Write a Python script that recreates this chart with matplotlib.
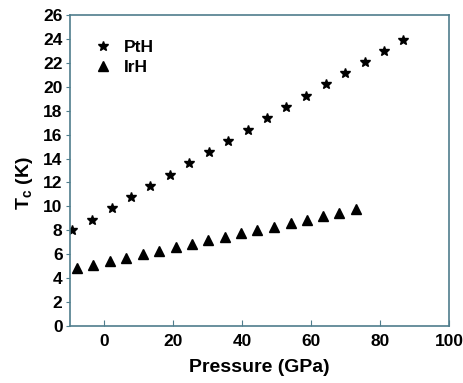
import matplotlib
matplotlib.use("Agg")
import matplotlib.pyplot as plt

pth_p = [-9.3, -3.6, 2.2, 7.7, 13.3, 19.1, 24.7, 30.4, 35.9, 41.6, 47.3, 52.8, 58.6, 64.3, 69.9, 75.6, 81.2, 86.8]
pth_tc = [8.0, 8.86, 9.84, 10.76, 11.73, 12.63, 13.6, 14.57, 15.5, 16.39, 17.37, 18.31, 19.26, 20.2, 21.15, 22.07, 22.99, 23.94]
irh_p = [-7.9, -3.1, 1.7, 6.4, 11.2, 15.9, 20.8, 25.4, 30.2, 35.1, 39.8, 44.4, 49.3, 54.1, 58.8, 63.5, 68.2, 73.1]
irh_tc = [4.82, 5.1, 5.46, 5.71, 6.0, 6.27, 6.58, 6.86, 7.17, 7.47, 7.75, 8.0, 8.3, 8.61, 8.89, 9.2, 9.47, 9.76]

xticks = [0, 20, 40, 60, 80, 100]
yticks = list(range(0, 27, 2))

plt.rcParams['font.family'] = ['Liberation Sans', 'DejaVu Sans']
plt.rcParams['font.weight'] = 'bold'

fig = plt.figure(figsize=(4.64, 3.83), dpi=100)
ax = fig.add_axes([0.1498, 0.1488, 0.8179, 0.812])

ax.plot(pth_p, pth_tc, linestyle='none', marker='*', color='black', ms=7, label='PtH')
ax.plot(irh_p, irh_tc, linestyle='none', marker='^', color='black', ms=7, label='IrH')

ax.set_xlim(-10, 100)
ax.set_ylim(0, 26)
ax.set_xticks(xticks)
ax.set_yticks(yticks)

spine_color = '#4f7d8c'
for s in ax.spines.values():
    s.set_color(spine_color)
    s.set_linewidth(1.2)

ax.tick_params(axis='x', direction='in', length=4, color=spine_color, labelsize=12.5, pad=6)
ax.tick_params(axis='y', direction='out', length=3, color=spine_color, labelsize=12.5, pad=2)
for lbl in ax.get_xticklabels() + ax.get_yticklabels():
    lbl.set_fontweight('bold')

ax.set_xlabel('Pressure (GPa)', fontsize=14, fontweight='bold', labelpad=7)
ax.set_ylabel(r'T$_\mathregular{c}$ (K)', fontsize=14, fontweight='bold', labelpad=3)
ax.yaxis.set_label_coords(-0.092, 0.46)

leg = ax.legend(loc='upper left', bbox_to_anchor=(0.025, 0.97), frameon=False,
                prop={'size': 12.5, 'weight': 'bold'}, handletextpad=0.7,
                handlelength=1.0, labelspacing=0.3)

fig.savefig('out.png', dpi=100)
